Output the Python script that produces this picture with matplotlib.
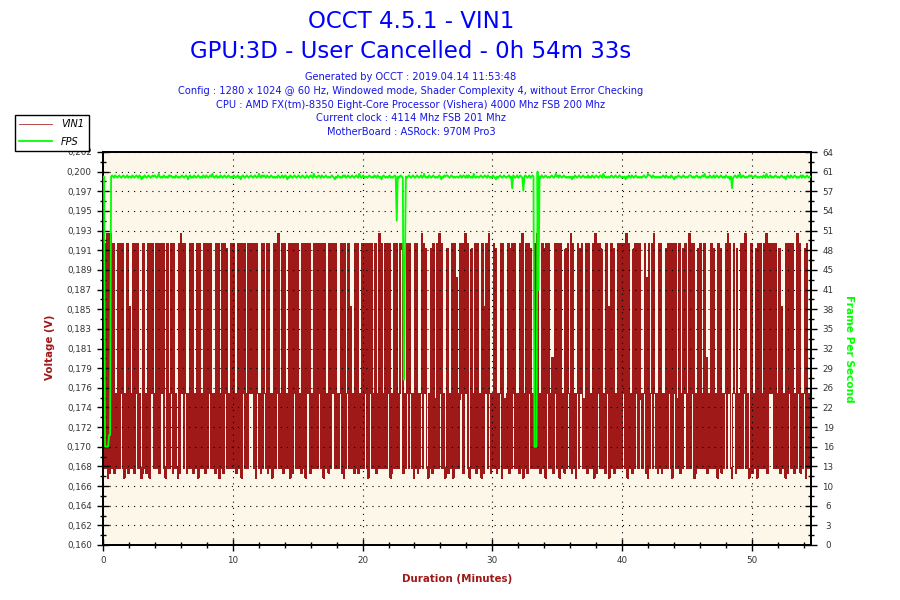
import numpy as np
import matplotlib
matplotlib.use("Agg")
import matplotlib.pyplot as plt
from matplotlib.ticker import FixedLocator, MultipleLocator

# ---------------- data ----------------
duration_min = 54.55  # 0h 54m 33s

title_lines = ["OCCT 4.5.1 - VIN1", "GPU:3D - User Cancelled - 0h 54m 33s"]
info_lines = [
    "Generated by OCCT : 2019.04.14 11:53:48",
    "Config : 1280 x 1024 @ 60 Hz, Windowed mode, Shader Complexity 4, without Error Checking",
    "CPU : AMD FX(tm)-8350 Eight-Core Processor (Vishera) 4000 Mhz FSB 200 Mhz",
    "Current clock : 4114 Mhz FSB 201 Mhz",
    "MotherBoard : ASRock: 970M Pro3",
]

volt_tick_labels = ["0,160", "0,162", "0,164", "0,166", "0,168", "0,170", "0,172",
                    "0,174", "0,176", "0,179", "0,181", "0,183", "0,185", "0,187",
                    "0,189", "0,191", "0,193", "0,195", "0,197", "0,200", "0,202"]
fps_tick_labels = ["0", "3", "6", "10", "13", "16", "19", "22", "26", "29", "32",
                   "35", "38", "41", "45", "48", "51", "54", "57", "61", "64"]
x_ticks = [0, 10, 20, 30, 40, 50]
volt_range = [0.160, 0.202]
fps_range = [0, 64]

# VIN1 sample levels (V)
VIN1_LEVELS = {"a": 0.1672, "k": 0.1677, "l": 0.1682, "z": 0.1718, "n": 0.1756,
               "m": 0.1762, "y": 0.1800, "x": 0.1855, "w": 0.1885, "g": 0.1916,
               "h": 0.1922, "p": 0.1933}
vin1_codes = """
mlhlpapkpl hkmlmhlhmh lamlhkxlml hkhmhlmlak hlmkmhahmh mlmhlhkmhm hlalhmlmhk
hlmlahkpmh lhmkmlhlhk mlmhahlmlm hkhlhmhlml mkhlhamlhk hmglmlmhlh lmkmhlhahm
hlmlhmhmhl hahmlmkhlh mlhkhlmamh lhmplmlhkh lmlmhahkhm hlhmlmkhlh amhmhkmlmh
lhlmhmlhah mlmkhlhmhl hlmlmhkhah lmhlxmlmkh lhkmlmhlhm hlahmhlmlh kmlplhmlmh
lhmhakmlhl hmlmhghkml mhlhmlmahl hkmlmplhmg lamlgkhlnl hlpmhlmlak gkmlmhahlw
mlnhmhkmpm hlalgmlmhk hlmlahkxmh lpmkmlhlgk mlmhahlnlm hkglhmhlml mkhlpamlhk
hmglmlmhlp lmknhlgahm hlmlykmhgl hahmlmkglh mlpkhlmamh lgmhlnlhkh lmlmhapkhm
hlgmlmkhmx amhlgkmlmh lhlmhmlpah mlmkglhmhl hmnlmhkwah lmhlpmlmkh lhkmlmglhm
hlahmhlnlh kmlgmhmlmp lhmhakmlgl hmlmhlykml mhlgmlmahl gkmlmhlpmh lamhmkglml
hlhmplmlak hkmlmgahlh mlmhlpkmhm hmhlhmlmgk xlmlahkhmh lhmkmlpmhk mlmgahlmlh
"""

# FPS sample levels
FPS_LEVELS = {"b": 59.55, "c": 59.8, "d": 60.0, "e": 60.2, "f": 60.45, "g": 60.8,
              "A": 16.0, "B": 17.9, "C": 26.9, "D": 41.5, "E": 52.8, "F": 57.7,
              "G": 58.1, "H": 43.5}
fps_codes = """
ddAAAABBde dcedcdedcd edcdecddce dcdedcedbd cedcdedcde dedcdfdcdc edcdcededc
dcedcdcded cdedbdecdc edcdedcdce dcedcdedfd cdecdcedcd edcdedcdce dcdecdbded
cdedcdedcd edcdfdcede dcedcdedcd cdcedcdecd edbdcedcde dcdedcdedc cedcdedcfd
dcdedcedcd edcdcdedcb dcedcdcede cdedcdedcd edcfdcdecd dcdedcdced cedcdbdedc
dcdecdcded EdcdedcCHd cdedcdedcd edcdecdfdc dcedcdedcd cdedbdcede edcdedcdcd
dcdecdedce cedcdcfdcd dcdedcdedc edcdcedcbd cdedcdedcd decdGedcde cdedcFdedc
decdedAAAg Ddcedcdedc dcdedcdfde cedcdedcdc dcdbdcedcd edcdedcdce cdcedcdedc
dedcfdcdcd cdedcdedcd edcdcdbdce dcedcdedcd cdcdedcdfe edcedcdcdc dcdedcedcd
cedcbdcded dcdedcdcde edcdcdedcd cdedfdcdce dcdecdedcd edcdcedcdb dGcdedcedf
cdedcdcded edcdedcdcd dcedcfdcde cdcdedcdcd edcdbdedce dcdedcdcde cedcdedcdd
"""

vin1 = [VIN1_LEVELS[c] for c in "".join(vin1_codes.split())]
fps = [FPS_LEVELS[c] for c in "".join(fps_codes.split())]
t_vin1 = np.linspace(0, duration_min, len(vin1))
t_fps = np.linspace(0, duration_min, len(fps))

# ---------------- styling ----------------
RED = "#A01919"
GREEN = "#00FF00"
BLUE = "#0000FF"
CREAM = "#FDF7EA"
plt.rcParams["font.family"] = ["DejaVu Sans"]
plt.rcParams["path.simplify"] = False

fig = plt.figure(figsize=(9, 6), dpi=100)
fig.patch.set_facecolor("white")
ax = fig.add_axes([103 / 900, 55 / 600, 708 / 900, 393 / 600])
ax.set_facecolor(CREAM)

l1, = ax.plot(t_vin1, vin1, color=RED, lw=0.55, drawstyle="steps-mid", label="VIN1",
              zorder=2, antialiased=False)
ax.set_xlim(0, duration_min)
ax.set_ylim(*volt_range)

ax2 = ax.twinx()
l2, = ax2.plot(t_fps, fps, color=GREEN, lw=1.3, label="FPS", zorder=3)
ax2.set_ylim(*fps_range)

# ticks
yt = np.linspace(volt_range[0], volt_range[1], len(volt_tick_labels))
ax.yaxis.set_major_locator(FixedLocator(yt))
ax.set_yticklabels(volt_tick_labels)
ax.yaxis.set_minor_locator(FixedLocator((yt[:-1] + yt[1:]) / 2))
ft = np.linspace(fps_range[0], fps_range[1], len(fps_tick_labels))
ax2.yaxis.set_major_locator(FixedLocator(ft))
ax2.set_yticklabels(fps_tick_labels)
ax2.yaxis.set_minor_locator(FixedLocator((ft[:-1] + ft[1:]) / 2))
ax.xaxis.set_major_locator(FixedLocator(x_ticks))
ax.xaxis.set_minor_locator(MultipleLocator(2))

for a in (ax, ax2):
    a.tick_params(which="major", direction="inout", length=9, width=1.0,
                  labelsize=6.3, colors="black")
    a.tick_params(which="minor", direction="inout", length=4.5, width=1.0)
    for s in a.spines.values():
        s.set_linewidth(1.3)
        s.set_color("black")
ax.tick_params(axis="y", which="major", pad=3.6)
ax.tick_params(axis="x", which="major", pad=3.2)
ax2.tick_params(axis="y", which="major", pad=7.8)
for lbl in ax2.get_yticklabels():
    lbl.set_horizontalalignment("center")
for lbl in ax.get_yticklabels() + ax.get_xticklabels() + ax2.get_yticklabels():
    lbl.set_color("#333333")

ax.set_axisbelow(False)
ax.grid(True, which="major", color="black", linestyle=(0, (1, 4.5)), linewidth=0.8)

# axis labels
fig.text(50 / 900, 1 - 347 / 600, "Voltage (V)", rotation=90, ha="center", va="center",
         color=RED, fontsize=7.4, fontweight="bold")
fig.text(849 / 900, 1 - 349 / 600, "Frame Per Second", rotation=270, ha="center", va="center",
         color=GREEN, fontsize=7.6, fontweight="bold")
fig.text(457 / 900, 1 - 579 / 600, "Duration (Minutes)", ha="center", va="center",
         color=RED, fontsize=7.4, fontweight="bold")

# titles
fig.text(411 / 900, 1 - 21 / 600, title_lines[0], ha="center", va="center", color=BLUE, fontsize=16.5)
fig.text(411 / 900, 1 - 51 / 600, title_lines[1], ha="center", va="center", color=BLUE, fontsize=16.5)
for i, line in enumerate(info_lines):
    fig.text(411 / 900, 1 - (77 + i * 13.8) / 600, line, ha="center", va="center",
             color="#1515E6", fontsize=7.15)

# legend
leg = fig.legend(handles=[l1, l2], labels=["VIN1", "FPS"], loc="upper left",
                 bbox_to_anchor=(15 / 900, 1 - 115 / 600), bbox_transform=fig.transFigure,
                 frameon=True, fancybox=False, edgecolor="black", framealpha=1,
                 borderaxespad=0, prop=dict(style="italic", size=7), handlelength=3.4,
                 handletextpad=0.9, labelspacing=0.75, borderpad=0.45)
leg.get_frame().set_linewidth(1.0)

fig.savefig("out.png", dpi=100, facecolor="white")
